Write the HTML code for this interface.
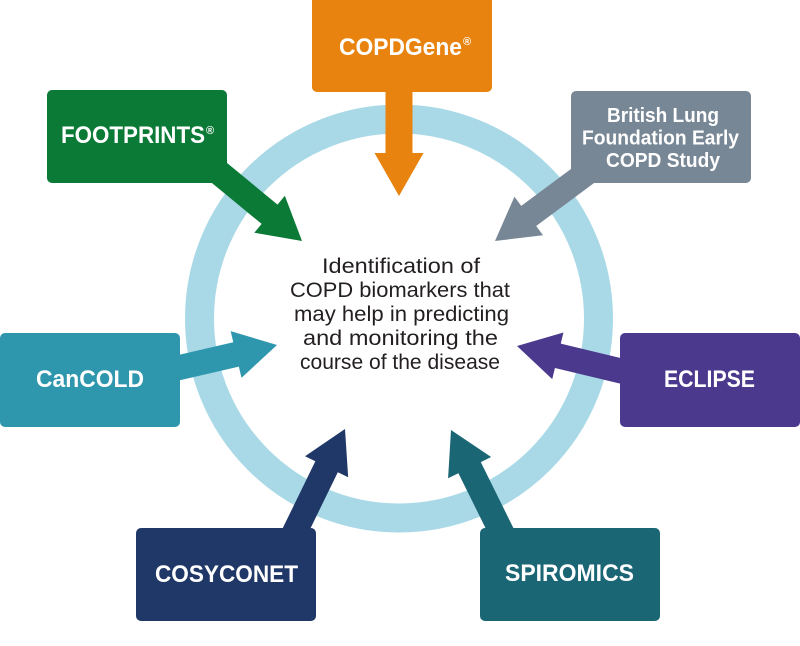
<!DOCTYPE html>
<html>
<head>
<meta charset="utf-8">
<style>
html,body{margin:0;padding:0;background:#fff;}
svg{display:block;}
.lbl{font-family:"Liberation Sans",sans-serif;font-weight:bold;fill:#fff;}
.ctr{font-family:"Liberation Sans",sans-serif;fill:#231f20;font-size:21px;}
</style>
</head>
<body>
<svg width="800" height="646" viewBox="0 0 800 646" xmlns="http://www.w3.org/2000/svg">
  <rect width="800" height="646" fill="#fff"/>
  <!-- ring -->
  <circle cx="399" cy="318.5" r="199.5" fill="none" stroke="#a9d9e7" stroke-width="29"/>

  <!-- arrows -->
  <g transform="translate(399,196) rotate(90)">
    <polygon points="0,0 -43,-24.5 -43,-13.5 -125,-13.5 -125,13.5 -43,13.5 -43,24.5" fill="#e8830f"/>
  </g>
  <g transform="translate(302,241) rotate(39.5)">
    <polygon points="0,0 -42,-24 -42,-12.5 -120,-12.5 -120,12.5 -42,12.5 -42,24" fill="#0b7a37"/>
  </g>
  <g transform="translate(495,241) rotate(143.4)">
    <polygon points="0,0 -42,-24 -42,-12.5 -120,-12.5 -120,12.5 -42,12.5 -42,24" fill="#788795"/>
  </g>
  <g transform="translate(277,345) rotate(-13)">
    <polygon points="0,0 -42,-24 -42,-12.5 -120,-12.5 -120,12.5 -42,12.5 -42,24" fill="#2f97ad"/>
  </g>
  <g transform="translate(517,346) rotate(193.5)">
    <polygon points="0,0 -42,-24 -42,-12.5 -120,-12.5 -120,12.5 -42,12.5 -42,24" fill="#4b398e"/>
  </g>
  <g transform="translate(345,429) rotate(-64)">
    <polygon points="0,0 -42,-24 -42,-12.5 -120,-12.5 -120,12.5 -42,12.5 -42,24" fill="#1f3867"/>
  </g>
  <g transform="translate(451,430) rotate(-116.3)">
    <polygon points="0,0 -42,-24 -42,-12.5 -120,-12.5 -120,12.5 -42,12.5 -42,24" fill="#1b6675"/>
  </g>

  <!-- boxes -->
  <rect x="312" y="-6" width="180" height="98" rx="5" fill="#e8830f"/>
  <rect x="47" y="90" width="180" height="93" rx="5" fill="#0b7a37"/>
  <rect x="571" y="91" width="180" height="92" rx="5" fill="#788795"/>
  <rect x="0" y="333" width="180" height="94" rx="5" fill="#2f97ad"/>
  <rect x="620" y="333" width="180" height="94" rx="5" fill="#4b398e"/>
  <rect x="136" y="528" width="180" height="93" rx="5" fill="#1f3867"/>
  <rect x="480" y="528" width="180" height="93" rx="5" fill="#1b6675"/>

  <!-- labels -->
  <text class="lbl" x="339" y="55" font-size="24" textLength="123" lengthAdjust="spacingAndGlyphs">COPDGene</text>
  <text class="lbl" x="463" y="45" font-size="11">®</text>

  <text class="lbl" x="61" y="143" font-size="24" textLength="144" lengthAdjust="spacingAndGlyphs">FOOTPRINTS</text>
  <text class="lbl" x="206" y="134" font-size="11">®</text>

  <text class="lbl" x="607" y="122" font-size="20" textLength="112" lengthAdjust="spacingAndGlyphs">British Lung</text>
  <text class="lbl" x="582" y="144.5" font-size="20" textLength="157" lengthAdjust="spacingAndGlyphs">Foundation Early</text>
  <text class="lbl" x="606" y="167" font-size="20" textLength="114" lengthAdjust="spacingAndGlyphs">COPD Study</text>

  <text class="lbl" x="36" y="387" font-size="24" textLength="108" lengthAdjust="spacingAndGlyphs">CanCOLD</text>
  <text class="lbl" x="664" y="387" font-size="24" textLength="91" lengthAdjust="spacingAndGlyphs">ECLIPSE</text>
  <text class="lbl" x="155" y="582" font-size="24" textLength="143" lengthAdjust="spacingAndGlyphs">COSYCONET</text>
  <text class="lbl" x="505" y="581" font-size="24" textLength="129" lengthAdjust="spacingAndGlyphs">SPIROMICS</text>

  <!-- center text -->
  <text class="ctr" x="322" y="273" textLength="158" lengthAdjust="spacingAndGlyphs">Identification of</text>
  <text class="ctr" x="290" y="297" textLength="220" lengthAdjust="spacingAndGlyphs">COPD biomarkers that</text>
  <text class="ctr" x="294" y="321" textLength="215" lengthAdjust="spacingAndGlyphs">may help in predicting</text>
  <text class="ctr" x="303" y="345" textLength="195" lengthAdjust="spacingAndGlyphs">and monitoring the</text>
  <text class="ctr" x="300" y="369" textLength="200" lengthAdjust="spacingAndGlyphs">course of the disease</text>
</svg>
</body>
</html>
